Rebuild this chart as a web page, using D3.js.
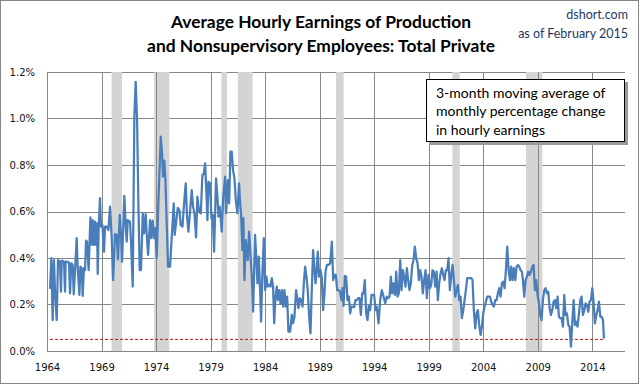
<!DOCTYPE html>
<html>
<head>
<meta charset="utf-8">
<script src="https://d3js.org/d3.v7.min.js"></script>
<style>
  body { margin: 0; background: #fff; }
  .y-axis text, .x-axis text {
    font-family: 'DejaVu Sans', sans-serif;
    font-size: 10px;
    fill: #111;
  }
  .y-axis path, .x-axis path { stroke: none; }
  .y-axis line, .x-axis line { stroke: none; }
</style>
</head>
<body>
<script>
  // decimal years of each reading (3-month moving average points)
  var months = [
    1964.28,1964.40,1964.52,1964.64,1964.73,1964.89,1965.01,1965.19,1965.28,1965.35,1965.56,1965.65,1965.71,1965.83,
    1966.02,1966.11,1966.23,1966.36,1966.45,1966.60,1966.72,1966.81,1966.97,1967.06,1967.18,1967.27,1967.39,1967.49,
    1967.58,1967.67,1967.82,1967.98,1968.10,1968.19,1968.31,1968.40,1968.50,1968.59,1968.65,1968.74,1968.86,1968.95,
    1969.08,1969.23,1969.32,1969.47,1969.63,1969.78,1969.93,1970.06,1970.24,1970.39,1970.51,1970.67,1970.79,1970.88,
    1971.09,1971.22,1971.31,1971.40,1971.61,1971.71,1971.86,1972.01,1972.13,1972.26,1972.38,1972.50,1972.62,
    1972.78,1972.90,1973.05,1973.14,1973.27,1973.45,1973.57,1973.69,1973.82,1973.94,1974.06,1974.21,1974.43,1974.55,
    1974.64,1974.76,1974.86,1974.95,1975.10,1975.28,1975.44,1975.62,1975.71,1975.83,1975.99,1976.14,1976.26,1976.42,
    1976.57,1976.72,1976.84,1976.97,1977.15,1977.27,1977.39,1977.52,1977.67,1977.79,1977.95,1978.10,1978.25,1978.37,
    1978.50,1978.62,1978.71,1978.80,1978.95,1979.08,1979.20,1979.32,1979.50,1979.63,1979.72,1979.84,1979.93,1980.02,
    1980.15,1980.33,1980.42,1980.58,1980.70,1980.82,1980.94,1981.06,1981.19,1981.31,1981.46,1981.61,
    1981.71,1981.80,1981.92,1982.01,1982.10,1982.23,1982.32,1982.41,1982.53,1982.65,1982.78,1982.90,1983.08,1983.20,
    1983.30,1983.42,1983.54,1983.63,1983.76,1983.88,1984.00,1984.12,1984.24,1984.37,1984.49,1984.61,1984.73,1984.83,
    1984.95,1985.07,1985.16,1985.28,1985.41,1985.53,1985.65,1985.77,1985.90,1986.02,1986.14,1986.29,1986.45,1986.57,
    1986.69,1986.84,1986.97,1987.06,1987.18,1987.30,1987.43,1987.55,1987.67,1987.79,1987.91,1988.04,1988.16,1988.28,
    1988.40,1988.53,1988.62,1988.71,1988.83,1988.95,1989.08,1989.20,1989.32,1989.44,1989.54,1989.66,1989.81,
    1989.96,1990.12,1990.24,1990.36,1990.48,1990.61,1990.73,1990.88,1991.00,1991.09,1991.19,1991.31,1991.43,1991.55,
    1991.68,1991.80,1991.92,1992.04,1992.16,1992.29,1992.41,1992.53,1992.65,1992.78,1992.90,1993.02,1993.14,1993.27,
    1993.39,1993.51,1993.63,1993.76,1993.88,1994.00,1994.12,1994.24,1994.40,1994.55,1994.70,1994.86,1995.01,1995.16,
    1995.28,1995.41,1995.53,1995.65,1995.77,1995.90,1996.02,1996.14,1996.26,1996.39,1996.51,1996.63,1996.75,1996.87,
    1997.00,1997.12,1997.24,1997.36,1997.49,1997.61,1997.73,1997.85,1997.98,1998.10,1998.22,1998.34,1998.46,1998.59,1998.71,
    1998.83,1998.98,1999.11,1999.23,1999.35,1999.47,1999.60,1999.72,1999.84,1999.96,2000.09,2000.21,2000.33,2000.45,
    2000.58,2000.70,2000.82,2000.94,2001.06,2001.19,2001.31,2001.43,2001.55,2001.68,2001.80,2001.92,2002.04,2002.17,
    2002.29,2002.41,2002.53,2002.65,2002.78,2002.90,2003.02,2003.14,2003.27,2003.39,2003.51,2003.63,2003.76,2003.88,
    2004.00,2004.12,2004.24,2004.37,2004.49,2004.61,2004.73,2004.86,2004.98,2005.10,2005.22,2005.35,2005.47,2005.59,
    2005.71,2005.84,2005.96,2006.08,2006.20,2006.33,2006.45,2006.57,2006.69,2006.81,2006.94,2007.06,2007.18,2007.30,2007.42,
    2007.55,2007.64,2007.76,2007.88,2008.01,2008.13,2008.25,2008.37,2008.50,2008.62,2008.74,2008.86,2008.98,2009.11,
    2009.23,2009.35,2009.47,2009.60,2009.72,2009.84,2009.96,2010.09,2010.21,2010.33,2010.45,2010.57,2010.70,2010.82,
    2010.94,2011.06,2011.19,2011.31,2011.43,2011.55,2011.68,2011.80,2011.92,2012.04,2012.16,2012.29,2012.41,2012.53,
    2012.65,2012.78,2012.90,2013.02,2013.14,2013.27,2013.39,2013.51,2013.63,2013.75,2013.88,2014.00,2014.12,2014.24,
    2014.37,2014.49,2014.61,2014.73,2014.86,2014.98,2015.07
  ];

  // percent change values
  var pctChange = [
    0.267,0.399,0.133,0.391,0.262,0.133,0.391,0.384,0.255,0.389,0.384,0.255,0.384,0.384,
    0.380,0.248,0.377,0.370,0.244,0.370,0.485,0.363,0.241,0.363,0.356,0.237,0.356,0.348,
    0.475,0.470,0.348,0.575,0.456,0.563,0.456,0.556,0.456,0.549,0.331,0.535,0.657,0.535,
    0.542,0.427,0.535,0.535,0.520,0.621,0.492,0.305,0.503,0.499,0.394,0.585,0.492,0.384,
    0.667,0.535,0.470,0.563,0.556,0.463,0.277,1.008,1.158,0.994,0.635,0.348,0.348,
    0.592,0.506,0.589,0.506,0.413,0.563,0.485,0.561,0.485,0.528,0.399,0.635,0.922,0.850,
    0.750,0.819,0.735,0.592,0.363,0.363,0.492,0.635,0.499,0.549,0.616,0.606,0.542,0.535,
    0.635,0.721,0.578,0.513,0.621,0.692,0.621,0.592,0.489,0.664,0.599,0.592,0.757,0.761,
    0.807,0.678,0.563,0.728,0.721,0.571,0.585,0.427,0.743,0.664,0.578,0.621,0.571,0.513,
    0.657,0.750,0.592,0.735,0.635,0.857,0.857,0.778,0.743,0.649,0.592,0.721,
    0.635,0.585,0.434,0.571,0.305,0.477,0.427,0.391,0.513,0.420,0.320,0.169,0.499,0.391,
    0.291,0.406,0.262,0.126,0.348,0.485,0.262,0.320,0.277,0.284,0.277,0.313,0.277,0.119,
    0.234,0.277,0.219,0.262,0.205,0.262,0.191,0.262,0.191,0.234,0.083,0.083,0.155,0.119,
    0.148,0.262,0.219,0.184,0.227,0.219,0.191,0.291,0.363,0.320,0.262,0.148,0.076,0.262,
    0.434,0.348,0.291,0.334,0.427,0.320,0.348,0.313,0.176,0.248,0.341,0.370,0.370,
    0.377,0.470,0.305,0.327,0.327,0.262,0.262,0.255,0.219,0.270,0.194,0.323,0.320,0.219,
    0.234,0.162,0.191,0.191,0.188,0.219,0.219,0.227,0.227,0.155,0.248,0.248,0.305,0.162,
    0.133,0.194,0.176,0.241,0.241,0.241,0.176,0.191,0.119,0.219,0.262,0.234,0.205,0.234,
    0.227,0.234,0.320,0.248,0.291,0.241,0.341,0.234,0.248,0.391,0.262,0.348,0.320,0.277,
    0.356,0.305,0.262,0.291,0.370,0.391,0.449,0.399,0.377,0.305,0.348,0.320,0.248,0.305,0.348,
    0.227,0.327,0.270,0.284,0.348,0.341,0.277,0.341,0.219,0.291,0.334,0.356,0.327,0.305,
    0.348,0.348,0.399,0.262,0.320,0.370,0.305,0.234,0.262,0.284,0.219,0.234,0.141,0.176,
    0.219,0.262,0.313,0.313,0.313,0.313,0.305,0.176,0.097,0.162,0.176,0.112,0.069,0.105,
    0.162,0.191,0.212,0.234,0.234,0.234,0.212,0.198,0.191,0.219,0.219,0.248,0.270,0.234,
    0.291,0.298,0.270,0.348,0.449,0.348,0.305,0.363,0.305,0.356,0.305,0.363,0.370,0.363,0.348,
    0.341,0.305,0.234,0.305,0.320,0.341,0.327,0.341,0.363,0.370,0.262,0.305,0.241,0.205,
    0.155,0.133,0.219,0.262,0.270,0.248,0.255,0.184,0.155,0.176,0.212,0.219,0.184,0.234,
    0.148,0.141,0.141,0.105,0.241,0.155,0.162,0.112,0.105,0.019,0.119,0.219,0.112,0.126,
    0.105,0.162,0.219,0.234,0.155,0.176,0.205,0.198,0.169,0.212,0.219,0.270,0.212,0.119,
    0.155,0.176,0.212,0.148,0.148,0.133,0.054
  ];

  // recession periods (decimal years)
  var recStart = [1969.92, 1973.83, 1980.0, 1981.5, 1990.5, 2001.17, 2007.92];
  var recEnd = [1970.88, 1975.21, 1980.5, 1982.85, 1991.2, 2001.85, 2009.42];

  var yTicks = [0, 0.2, 0.4, 0.6, 0.8, 1.0, 1.2];
  var xTicks = [1964, 1969, 1974, 1979, 1984, 1989, 1994, 1999, 2004, 2009, 2014];
  var refLevel = 0.05;

  var titleLines = ['Average Hourly Earnings of Production', 'and Nonsupervisory Employees: Total Private'];
  var noteLines = ['3-month moving average of', 'monthly percentage change', 'in hourly earnings'];

  //Margin conventions
  var W = 640, H = 385;
  var m = { top: 72, right: 15, bottom: 34, left: 47 };
  var w = W - m.left - m.right,
      h = H - m.top - m.bottom;

  var root = d3.select('body').append('svg')
    .attr('width', W)
    .attr('height', H);

  //Outer frame
  root.append('rect')
    .attr('x', 0.5).attr('y', 0.5)
    .attr('width', W - 2).attr('height', H - 2)
    .attr('fill', '#fff')
    .attr('stroke', '#868686');

  var svg = root.append('g')
    .attr('transform', `translate(${m.left}, ${m.top})`);

  //Scales
  var x = d3.scaleLinear().domain([1964, 2017]).range([0, w]);
  var y = d3.scaleLinear().domain([0, 1.2]).range([h, 0]);

  //Horizontal gridlines
  svg.selectAll('.hgrid')
    .data(yTicks)
    .enter().append('line')
    .attr('x1', 0).attr('x2', w)
    .attr('y1', d => Math.round(y(d)) + 0.5)
    .attr('y2', d => Math.round(y(d)) + 0.5)
    .attr('stroke', '#868686')
    .attr('stroke-width', 1);

  //Recession bars
  svg.selectAll('.rec')
    .data(recStart)
    .enter().append('rect')
    .attr('x', d => x(d))
    .attr('width', (d, i) => x(recEnd[i]) - x(d))
    .attr('y', 0)
    .attr('height', h)
    .attr('fill', '#d4d4d4');

  //Vertical gridlines
  svg.selectAll('.vgrid')
    .data(xTicks)
    .enter().append('line')
    .attr('x1', d => Math.round(x(d)) + 0.5)
    .attr('x2', d => Math.round(x(d)) + 0.5)
    .attr('y1', 0).attr('y2', h)
    .attr('stroke', '#868686')
    .attr('stroke-width', 1);

  //Axes (labels only)
  svg.append('g')
    .attr('class', 'x-axis')
    .attr('transform', `translate(0, ${h})`)
    .call(d3.axisBottom(x)
      .tickValues(xTicks)
      .tickFormat(d3.format('d'))
      .tickSize(0)
      .tickPadding(13));

  svg.append('g')
    .attr('class', 'y-axis')
    .call(d3.axisLeft(y)
      .tickValues(yTicks)
      .tickFormat(d => d.toFixed(1) + '%')
      .tickSize(0)
      .tickPadding(12));

  //Reference dashed line
  svg.append('line')
    .attr('x1', x(months[0]))
    .attr('x2', x(months[months.length - 1]))
    .attr('y1', y(refLevel))
    .attr('y2', y(refLevel))
    .attr('stroke', '#b0191c')
    .attr('stroke-width', 1)
    .attr('stroke-dasharray', '3,2');

  //Data line
  var line = d3.line()
    .x((d, i) => x(months[i]))
    .y(d => y(d));

  svg.append('path')
    .datum(pctChange)
    .attr('d', line)
    .attr('fill', 'none')
    .attr('stroke', '#4a7ebb')
    .attr('stroke-width', 2.25)
    .attr('stroke-linejoin', 'round');

  //Title
  root.selectAll('.title')
    .data(titleLines)
    .enter().append('text')
    .attr('x', 321)
    .attr('y', (d, i) => 28 + i * 24)
    .attr('text-anchor', 'middle')
    .style('font-family', 'Lato, sans-serif')
    .style('font-weight', 'bold')
    .style('font-size', '17.4px')
    .style('fill', '#000')
    .text(d => d);

  //Source text
  root.append('text')
    .attr('x', 628).attr('y', 19)
    .attr('text-anchor', 'end')
    .style('font-family', 'Lato, sans-serif')
    .style('font-size', '12.5px')
    .style('fill', '#1f3864')
    .text('dshort.com');

  root.append('text')
    .attr('x', 628).attr('y', 38)
    .attr('text-anchor', 'end')
    .style('font-family', 'Lato, sans-serif')
    .style('font-size', '12.5px')
    .style('fill', '#1f3864')
    .text('as of February 2015');

  //Note box
  var note = root.append('g').attr('transform', 'translate(426, 79)');
  note.append('rect')
    .attr('x', 3).attr('y', 3)
    .attr('width', 199).attr('height', 63)
    .attr('fill', '#9a9a9a');
  note.append('rect')
    .attr('x', 0.5).attr('y', 0.5)
    .attr('width', 198).attr('height', 62)
    .attr('fill', '#fff')
    .attr('stroke', '#000');
  note.selectAll('.nt')
    .data(noteLines)
    .enter().append('text')
    .attr('x', 10)
    .attr('y', (d, i) => 18.5 + i * 18.5)
    .style('font-family', 'Lato, sans-serif')
    .style('font-size', '14px')
    .style('fill', '#000')
    .text(d => d);
</script>
</body>
</html>
